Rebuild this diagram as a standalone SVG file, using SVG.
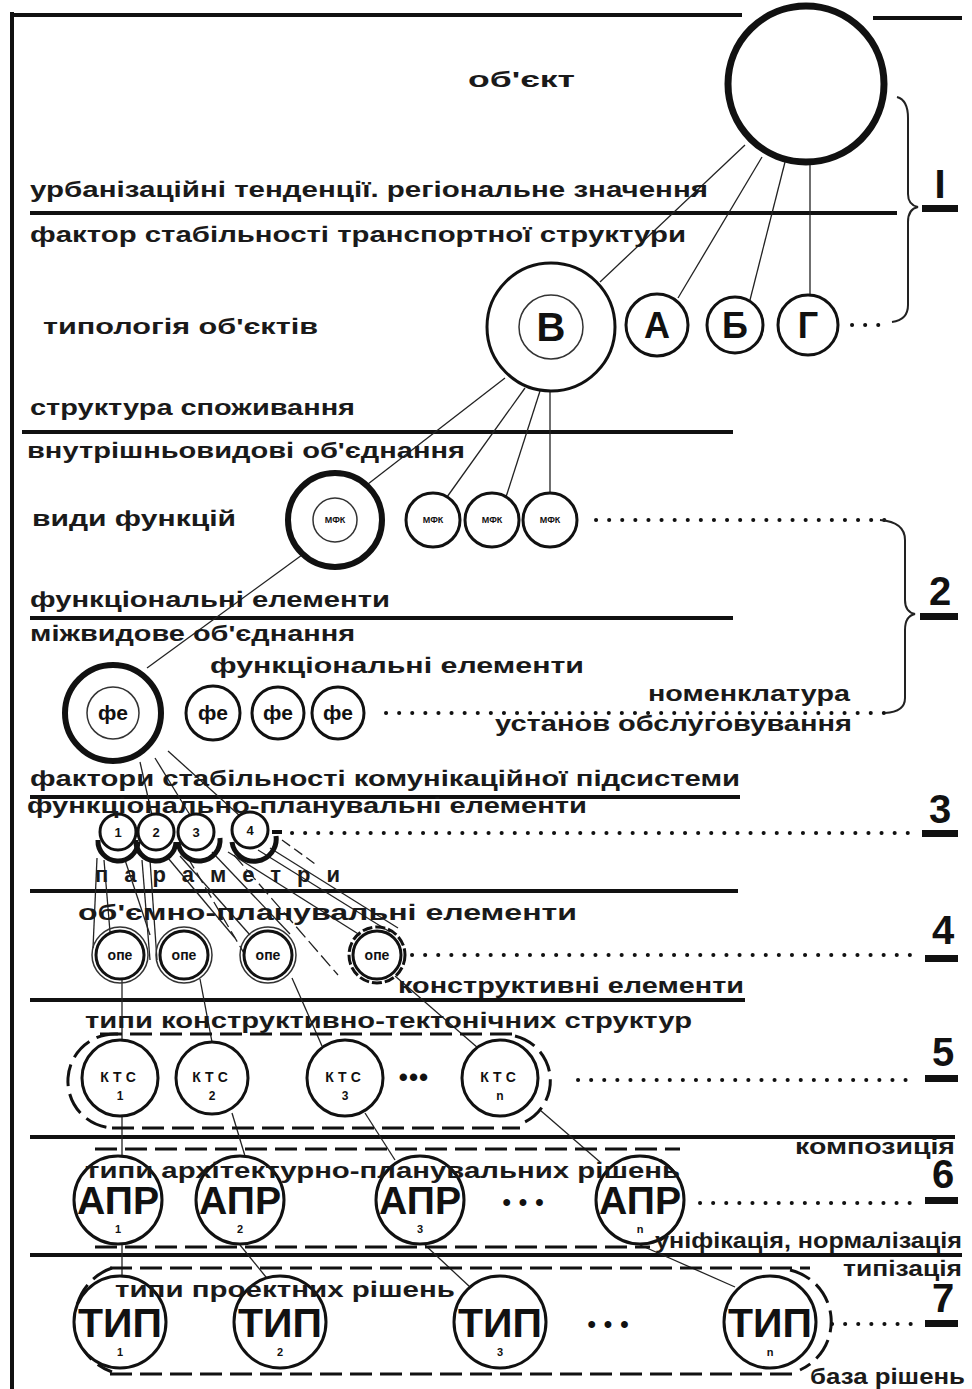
<svg xmlns="http://www.w3.org/2000/svg" width="972" height="1389" viewBox="0 0 972 1389">
<style>
.t{font-family:"Liberation Sans",Arial,sans-serif;font-weight:bold;font-size:22px;fill:#1a1a1a}
.c{font-family:"Liberation Sans",Arial,sans-serif;font-weight:bold;fill:#111;text-anchor:middle}
.lbl{font-family:"Liberation Sans",Arial,sans-serif;font-weight:bold;font-size:40px;fill:#111;text-anchor:middle}
.sep{stroke:#111;stroke-width:4;fill:none}
.thin{stroke:#222;stroke-width:1.3;fill:none}
.brace{stroke:#222;stroke-width:2;fill:none}
.dot{stroke:#111;stroke-width:4;stroke-linecap:round;stroke-dasharray:0.1 13;fill:none}
.dash{stroke:#111;stroke-width:3;stroke-dasharray:22 8;fill:none}
.ring{fill:#fff;stroke:#111;stroke-width:3}
.ringb{fill:#fff;stroke:#111;stroke-width:6}
.ringt{fill:none;stroke:#333;stroke-width:1.5}
.bar{fill:#111}
</style>

<g id="frame">
<line class="sep" x1="12" y1="12" x2="12" y2="1389" stroke-width="2"/>
<line class="sep" x1="12" y1="15" x2="742" y2="15" stroke-width="2.5"/>
<line class="sep" x1="873" y1="18" x2="962" y2="18" stroke-width="2.5"/>
<line class="sep" x1="30" y1="213" x2="897" y2="213"/>
<line class="sep" x1="22" y1="432" x2="733" y2="432"/>
<line class="sep" x1="30" y1="618" x2="733" y2="618"/>
<line class="sep" x1="30" y1="797" x2="740" y2="797" stroke-width="3"/>
<line class="sep" x1="30" y1="891" x2="738" y2="891"/>
<line class="sep" x1="30" y1="1000" x2="745" y2="1000"/>
<line class="sep" x1="30" y1="1137" x2="955" y2="1137"/>
<line class="sep" x1="30" y1="1255" x2="962" y2="1255"/>
</g>

<g id="connectors">
<line class="thin" x1="745" y1="145" x2="600" y2="282"/>
<line class="thin" x1="762" y1="157" x2="678" y2="298"/>
<line class="thin" x1="785" y1="162" x2="750" y2="300"/>
<line class="thin" x1="810" y1="163" x2="810" y2="296"/>
<line class="thin" x1="505" y1="378" x2="368" y2="484"/>
<line class="thin" x1="525" y1="388" x2="447" y2="497"/>
<line class="thin" x1="540" y1="391" x2="506" y2="497"/>
<line class="thin" x1="550" y1="391" x2="550" y2="493"/>
<line class="thin" x1="302" y1="555" x2="147" y2="668"/>
<line class="thin" x1="140" y1="762" x2="152" y2="815"/>
<line class="thin" x1="155" y1="758" x2="190" y2="815"/>
<line class="thin" x1="168" y1="751" x2="240" y2="816"/>
<line class="thin" x1="97" y1="858" x2="93" y2="948"/>
<line class="thin" x1="104" y1="860" x2="110" y2="932"/>
<line class="thin" x1="125" y1="860" x2="150" y2="935"/>
<line class="thin" x1="142" y1="860" x2="150" y2="960"/>
<line class="thin" x1="150" y1="860" x2="157" y2="960"/>
<line class="thin" x1="168" y1="858" x2="235" y2="938"/>
<line class="thin" x1="180" y1="856" x2="250" y2="935"/>
<line class="thin" x1="188" y1="858" x2="248" y2="960" stroke-dasharray="12 5"/>
<line class="thin" x1="212" y1="852" x2="290" y2="934"/>
<line class="thin" x1="228" y1="852" x2="360" y2="935"/>
<line class="thin" x1="234" y1="855" x2="338" y2="975" stroke-dasharray="14 5"/>
<line class="thin" x1="258" y1="850" x2="390" y2="932"/>
<line class="thin" x1="282" y1="840" x2="318" y2="866" stroke-dasharray="10 5"/>
<line class="thin" x1="270" y1="848" x2="398" y2="928"/>
<line class="thin" x1="122" y1="980" x2="122" y2="1040"/>
<line class="thin" x1="200" y1="979" x2="212" y2="1042"/>
<line class="thin" x1="292" y1="978" x2="322" y2="1046"/>
<line class="thin" x1="395" y1="976" x2="478" y2="1048"/>
<line class="thin" x1="122" y1="1116" x2="122" y2="1156"/>
<line class="thin" x1="232" y1="1113" x2="245" y2="1156"/>
<line class="thin" x1="365" y1="1113" x2="395" y2="1160"/>
<line class="thin" x1="540" y1="1110" x2="600" y2="1162"/>
<line class="thin" x1="122" y1="1245" x2="122" y2="1278"/>
<line class="thin" x1="240" y1="1245" x2="270" y2="1282"/>
<line class="thin" x1="425" y1="1245" x2="470" y2="1287"/>
<line class="thin" x1="640" y1="1245" x2="735" y2="1287"/>
<line class="dot" x1="852" y1="325" x2="888" y2="325"/>
<line class="dot" x1="596" y1="520" x2="885" y2="520"/>
<line class="dot" x1="386" y1="713" x2="890" y2="713"/>
<line class="dot" x1="292" y1="833" x2="918" y2="833"/>
<line class="dot" x1="412" y1="955" x2="918" y2="955"/>
<line class="dot" x1="578" y1="1080" x2="918" y2="1080"/>
<line class="dot" x1="700" y1="1203" x2="915" y2="1203"/>
<line class="dot" x1="832" y1="1324" x2="915" y2="1324"/>
<path class="brace" d="M897 97 Q908 100 908 118 L908 194 Q908 205 918 207 Q908 209 908 222 L908 305 Q908 320 892 322"/>
<path class="brace" d="M880 520 Q905 522 905 540 L905 600 Q905 612 915 614 Q905 616 905 630 L905 698 Q905 712 885 713"/>
<line class="dash" x1="100" y1="1034" x2="520" y2="1034" stroke-width="2.5"/>
<line class="dash" x1="112" y1="1128" x2="520" y2="1128"/>
<path class="dash" d="M118 1034 A46 46 0 0 0 112 1128" stroke-width="2"/>
<path class="dash" d="M515 1036 A46 46 0 0 1 520 1124" stroke-width="2.5"/>
<line class="dash" x1="95" y1="1149" x2="680" y2="1149" stroke-width="2.5"/>
<line class="dash" x1="95" y1="1247" x2="650" y2="1247"/>
<path class="dash" d="M660 1160 A46 46 0 0 1 660 1240" stroke-width="2.5"/>
<line class="dash" x1="110" y1="1268" x2="810" y2="1268"/>
<line class="dash" x1="110" y1="1374" x2="800" y2="1374"/>
<path class="dash" d="M112 1268 A55 55 0 0 0 112 1372" stroke-width="2"/>
<path class="dash" d="M790 1270 A53 53 0 0 1 800 1370" stroke-width="2.5"/>
</g>

<g id="labels">
<text class="lbl" x="940" y="198">I</text>
<rect class="bar" x="922" y="205" width="36" height="7"/>
<text class="lbl" x="940" y="605">2</text>
<rect class="bar" x="920" y="613" width="38" height="7"/>
<text class="lbl" x="940" y="823">3</text>
<rect class="bar" x="922" y="830" width="36" height="7"/>
<text class="lbl" x="943" y="944">4</text>
<rect class="bar" x="925" y="955" width="33" height="7"/>
<text class="lbl" x="943" y="1066">5</text>
<rect class="bar" x="925" y="1075" width="33" height="7"/>
<text class="lbl" x="943" y="1188">6</text>
<rect class="bar" x="925" y="1197" width="33" height="7"/>
<text class="lbl" x="943" y="1312">7</text>
<rect class="bar" x="925" y="1320" width="33" height="7"/>
</g>

<g id="node-object"><circle cx="806" cy="84" r="78" fill="none" stroke="#111" stroke-width="7"/></g>

<g id="node-V"><circle class="ring" cx="551" cy="327" r="64" stroke-width="4"/><circle class="ringt" cx="551" cy="327" r="32"/><text class="c" x="551" y="341" font-size="40">В</text></g>
<g id="node-A"><circle class="ring" cx="657" cy="325" r="31"/><text class="c" x="657" y="338" font-size="36">А</text></g>
<g id="node-B"><circle class="ring" cx="735" cy="325" r="28"/><text class="c" x="735" y="338" font-size="36">Б</text></g>
<g id="node-G"><circle class="ring" cx="808" cy="325" r="30"/><text class="c" x="808" y="338" font-size="36">Г</text></g>

<g id="node-mfk1"><circle class="ringb" cx="335" cy="520" r="47" stroke-width="5"/><circle class="ringt" cx="335" cy="520" r="22" stroke-width="2"/><text class="c" x="335" y="523" font-size="9">МФК</text></g>
<g id="node-mfk2"><circle class="ring" cx="433" cy="520" r="27" stroke-width="2.5"/><text class="c" x="433" y="523" font-size="9">МФК</text></g>
<g id="node-mfk3"><circle class="ring" cx="492" cy="520" r="27" stroke-width="2.5"/><text class="c" x="492" y="523" font-size="9">МФК</text></g>
<g id="node-mfk4"><circle class="ring" cx="550" cy="520" r="27" stroke-width="2.5"/><text class="c" x="550" y="523" font-size="9">МФК</text></g>

<g id="node-fe1"><circle class="ringb" cx="113" cy="713" r="48" stroke-width="7"/><circle class="ringt" cx="113" cy="713" r="26" stroke-width="2"/><text class="c" x="113" y="720" font-size="21">фе</text></g>
<g id="node-fe2"><circle class="ring" cx="213" cy="713" r="27" stroke-width="2.5"/><text class="c" x="213" y="720" font-size="21">фе</text></g>
<g id="node-fe3"><circle class="ring" cx="278" cy="713" r="26" stroke-width="2.5"/><text class="c" x="278" y="720" font-size="21">фе</text></g>
<g id="node-fe4"><circle class="ring" cx="338" cy="713" r="26" stroke-width="2.5"/><text class="c" x="338" y="720" font-size="21">фе</text></g>

<g id="node-p1"><path d="M98 840 A20 20 0 0 0 138 842" fill="none" stroke="#111" stroke-width="5"/><circle class="ring" cx="118" cy="832" r="18" stroke-width="2"/><text class="c" x="118" y="837" font-size="13">1</text></g>
<g id="node-p2"><path d="M136 840 A20 20 0 0 0 176 842" fill="none" stroke="#111" stroke-width="5"/><circle class="ring" cx="156" cy="832" r="18" stroke-width="2"/><text class="c" x="156" y="837" font-size="13">2</text></g>
<g id="node-p3"><path d="M178 842 A20 20 0 0 0 220 838" fill="none" stroke="#111" stroke-width="5"/><circle class="ring" cx="196" cy="832" r="18" stroke-width="2"/><text class="c" x="196" y="837" font-size="13">3</text></g>
<g id="node-p4"><path d="M232 842 A20 20 0 0 0 276 836" fill="none" stroke="#111" stroke-width="5"/><circle class="ring" cx="250" cy="830" r="18" stroke-width="2"/><text class="c" x="250" y="835" font-size="13">4</text><path d="M272 832 L282 832" stroke="#111" stroke-width="4"/></g>

<g id="node-ope1"><circle cx="120" cy="955" r="28" fill="none" stroke="#333" stroke-width="1.5"/><circle class="ring" cx="120" cy="955" r="24" stroke-width="3"/><text class="c" x="120" y="960" font-size="14">опе</text></g>
<g id="node-ope2"><circle cx="184" cy="955" r="28" fill="none" stroke="#333" stroke-width="1.5"/><circle class="ring" cx="184" cy="955" r="24" stroke-width="3"/><text class="c" x="184" y="960" font-size="14">опе</text></g>
<g id="node-ope3"><circle cx="268" cy="955" r="28" fill="none" stroke="#333" stroke-width="1.5"/><circle class="ring" cx="268" cy="955" r="24" stroke-width="3"/><text class="c" x="268" y="960" font-size="14">опе</text></g>
<g id="node-ope4"><circle cx="377" cy="955" r="28" fill="none" stroke="#111" stroke-width="3" stroke-dasharray="10 3"/><circle class="ring" cx="377" cy="955" r="24" stroke-width="3"/><text class="c" x="377" y="960" font-size="14">опе</text></g>

<g id="node-ktc1"><circle class="ring" cx="120" cy="1078" r="38" stroke-width="4"/><text class="c" x="120" y="1082" font-size="14" letter-spacing="4">КТС</text><text class="c" x="120" y="1100" font-size="12">1</text></g>
<g id="node-ktc2"><circle class="ring" cx="212" cy="1078" r="36" stroke-width="4"/><text class="c" x="212" y="1082" font-size="14" letter-spacing="4">КТС</text><text class="c" x="212" y="1100" font-size="12">2</text></g>
<g id="node-ktc3"><circle class="ring" cx="345" cy="1078" r="38" stroke-width="4"/><text class="c" x="345" y="1082" font-size="14" letter-spacing="4">КТС</text><text class="c" x="345" y="1100" font-size="12">3</text></g>
<text class="c" x="414" y="1086" font-size="26" letter-spacing="1">•••</text>
<g id="node-ktcn"><circle class="ring" cx="500" cy="1078" r="38" stroke-width="4"/><text class="c" x="500" y="1082" font-size="14" letter-spacing="4">КТС</text><text class="c" x="500" y="1100" font-size="12">n</text></g>

<g id="node-apr1"><circle class="ring" cx="118" cy="1200" r="44" stroke-width="3.5"/><text class="c" x="118" y="1214" font-size="38" textLength="82" lengthAdjust="spacingAndGlyphs">АПР</text><text class="c" x="118" y="1233" font-size="11">1</text></g>
<g id="node-apr2"><circle class="ring" cx="240" cy="1200" r="44" stroke-width="3.5"/><text class="c" x="240" y="1214" font-size="38" textLength="82" lengthAdjust="spacingAndGlyphs">АПР</text><text class="c" x="240" y="1233" font-size="11">2</text></g>
<g id="node-apr3"><circle class="ring" cx="420" cy="1200" r="44" stroke-width="3.5"/><text class="c" x="420" y="1214" font-size="38" textLength="82" lengthAdjust="spacingAndGlyphs">АПР</text><text class="c" x="420" y="1233" font-size="11">3</text></g>
<text class="c" x="527" y="1210" font-size="24" letter-spacing="8">•••</text>
<g id="node-aprn"><circle class="ring" cx="640" cy="1200" r="44" stroke-width="3.5"/><text class="c" x="640" y="1214" font-size="38" textLength="82" lengthAdjust="spacingAndGlyphs">АПР</text><text class="c" x="640" y="1233" font-size="11">n</text></g>

<g id="node-tip1"><circle class="ring" cx="120" cy="1322" r="46" stroke-width="4"/><text class="c" x="120" y="1337" font-size="40" textLength="84" lengthAdjust="spacingAndGlyphs">ТИП</text><text class="c" x="120" y="1356" font-size="11">1</text></g>
<g id="node-tip2"><circle class="ring" cx="280" cy="1322" r="46" stroke-width="4"/><text class="c" x="280" y="1337" font-size="40" textLength="84" lengthAdjust="spacingAndGlyphs">ТИП</text><text class="c" x="280" y="1356" font-size="11">2</text></g>
<g id="node-tip3"><circle class="ring" cx="500" cy="1322" r="46" stroke-width="4"/><text class="c" x="500" y="1337" font-size="40" textLength="84" lengthAdjust="spacingAndGlyphs">ТИП</text><text class="c" x="500" y="1356" font-size="11">3</text></g>
<text class="c" x="612" y="1332" font-size="24" letter-spacing="8">•••</text>
<g id="node-tipn"><circle class="ring" cx="770" cy="1322" r="46" stroke-width="4"/><text class="c" x="770" y="1337" font-size="40" textLength="84" lengthAdjust="spacingAndGlyphs">ТИП</text><text class="c" x="770" y="1356" font-size="11">n</text></g>

<g id="texts">
<text class="t" x="468" y="87" font-size="24" textLength="107" lengthAdjust="spacingAndGlyphs">об'єкт</text>
<text class="t" x="30" y="197" textLength="678" lengthAdjust="spacingAndGlyphs">урбанізаційні тенденції. регіональне значення</text>
<text class="t" x="30" y="242" textLength="656" lengthAdjust="spacingAndGlyphs">фактор стабільності транспортної структури</text>
<text class="t" x="43" y="334" textLength="275" lengthAdjust="spacingAndGlyphs">типологія об'єктів</text>
<text class="t" x="30" y="415" textLength="325" lengthAdjust="spacingAndGlyphs">структура споживання</text>
<text class="t" x="27" y="458" textLength="438" lengthAdjust="spacingAndGlyphs">внутрішньовидові об'єднання</text>
<text class="t" x="32" y="526" textLength="204" lengthAdjust="spacingAndGlyphs">види функцій</text>
<text class="t" x="30" y="607" textLength="360" lengthAdjust="spacingAndGlyphs">функціональні елементи</text>
<text class="t" x="30" y="641" textLength="325" lengthAdjust="spacingAndGlyphs">міжвидове об'єднання</text>
<text class="t" x="210" y="673" textLength="374" lengthAdjust="spacingAndGlyphs">функціональні елементи</text>
<text class="t" x="648" y="701" textLength="202" lengthAdjust="spacingAndGlyphs">номенклатура</text>
<text class="t" x="495" y="731" textLength="357" lengthAdjust="spacingAndGlyphs">установ обслуговування</text>
<text class="t" x="30" y="786" textLength="710" lengthAdjust="spacingAndGlyphs">фактори стабільності комунікаційної підсистеми</text>
<text class="t" x="27" y="813" textLength="560" lengthAdjust="spacingAndGlyphs">функціонально-планувальні елементи</text>
<text class="t" x="95" y="882" textLength="245" lengthAdjust="spacing">п а р а м е т р и</text>
<text class="t" x="78" y="920" textLength="499" lengthAdjust="spacingAndGlyphs">об'ємно-планувальні елементи</text>
<text class="t" x="398" y="993" textLength="346" lengthAdjust="spacingAndGlyphs">конструктивні елементи</text>
<text class="t" x="85" y="1028" textLength="607" lengthAdjust="spacingAndGlyphs">типи конструктивно-тектонічних структур</text>
<text class="t" x="795" y="1154" font-size="19" textLength="160" lengthAdjust="spacingAndGlyphs">композиція</text>
<text class="t" x="85" y="1178" textLength="595" lengthAdjust="spacingAndGlyphs">типи архітектурно-планувальних рішень</text>
<text class="t" x="655" y="1248" font-size="19" textLength="307" lengthAdjust="spacingAndGlyphs">уніфікація, нормалізація</text>
<text class="t" x="843" y="1276" font-size="19" textLength="119" lengthAdjust="spacingAndGlyphs">типізація</text>
<text class="t" x="115" y="1297" textLength="340" lengthAdjust="spacingAndGlyphs">типи проектних рішень</text>
<text class="t" x="810" y="1384" font-size="19" textLength="155" lengthAdjust="spacingAndGlyphs">база рішень</text>
</g>
</svg>
